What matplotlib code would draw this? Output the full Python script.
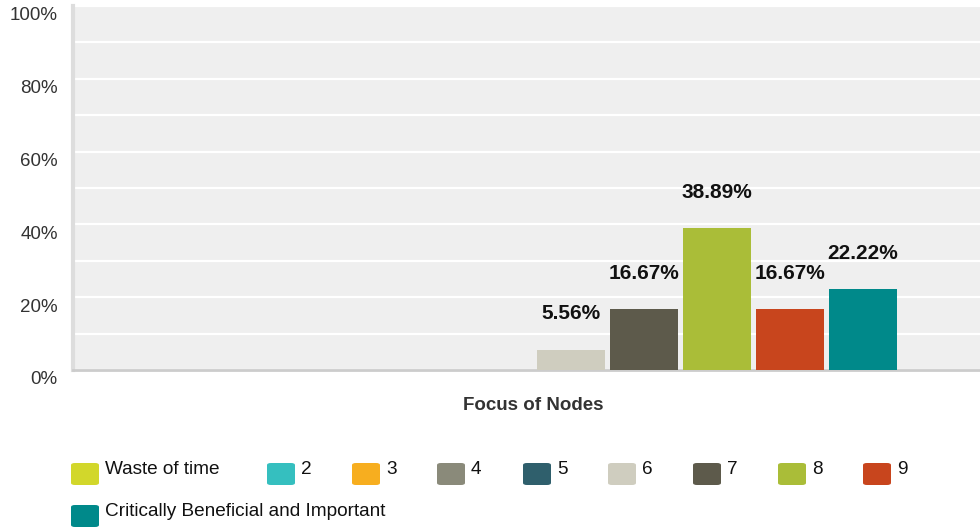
import matplotlib
matplotlib.use("Agg")
import matplotlib.pyplot as plt
from matplotlib.patches import FancyBboxPatch
from matplotlib.transforms import ScaledTranslation

plt.rcParams['font.family'] = ['Liberation Sans', 'DejaVu Sans']

category = 'Focus of Nodes'
series = ['Waste of time', '2', '3', '4', '5', '6', '7', '8', '9',
          'Critically Beneficial and Important']
values = [0, 0, 0, 0, 0, 5.56, 16.67, 38.89, 16.67, 22.22]
colors = ['#d2d72b', '#35bfbf', '#f7ae1f', '#8a8a7a', '#2f5f6c',
          '#cfcdbf', '#5d5a4b', '#aabd38', '#c8451d', '#00898a']
yticks = [0, 20, 40, 60, 80, 100]


def main():
    W, H = 980, 527
    fig = plt.figure(figsize=(W / 100, H / 100), dpi=100)
    ax = fig.add_axes([73 / W, 1 - 370 / H, (W - 73) / W, 364 / H])
    ax.set_facecolor('#efefef')

    x = list(range(len(series)))
    bars = ax.bar(x, values, width=0.93, color=colors, zorder=3)
    for b, v in zip(bars, values):
        if v > 0:
            ax.annotate(f'{v:.2f}%', (b.get_x() + b.get_width() / 2, v),
                        xytext=(0, 19), textcoords='offset points',
                        ha='center', va='bottom', fontsize=15,
                        fontweight='bold', color='#111111')

    ax.set_xlim(-1.81, 10.6)
    ax.set_ylim(0, 100)
    ax.set_yticks(yticks)
    ax.set_yticklabels([f'{t}%' for t in yticks], fontsize=13.5, color='#333333')
    ax.set_yticks(range(10, 100, 20), minor=True)
    ax.grid(axis='y', which='both', color='white', linewidth=1.6, zorder=1)
    ax.tick_params(axis='y', which='both', length=0, pad=11)
    shift = ScaledTranslation(0, -0.08, fig.dpi_scale_trans)
    for lab in ax.get_yticklabels():
        lab.set_transform(lab.get_transform() + shift)
    ax.set_xticks([])
    for s in ['top', 'right']:
        ax.spines[s].set_visible(False)
    ax.spines['left'].set_color('#dddddd')
    ax.spines['left'].set_linewidth(3)
    ax.spines['bottom'].set_color('#cccccc')
    ax.spines['bottom'].set_linewidth(2)

    fig.text(533 / W, 1 - 405 / H, category, ha='center', va='center',
             fontsize=13.5, fontweight='bold', color='#333333')

    # legend, laid out by hand like the original
    lx = [71, 267, 352, 437, 523, 608, 693, 778, 863, 71]
    ly = [474, 474, 474, 474, 474, 474, 474, 474, 474, 516]
    for name, c, px, py in zip(series, colors, lx, ly):
        box = FancyBboxPatch((px / W, 1 - (py + 11) / H), 28 / W, 22 / H,
                             boxstyle='round,pad=0,rounding_size=0.004',
                             transform=fig.transFigure, facecolor=c,
                             edgecolor='none')
        fig.patches.append(box)
        fig.text((px + 34) / W, 1 - (py - 5) / H, name, ha='left',
                 va='center', fontsize=13.7, color='#111111')

    fig.savefig('out.png', dpi=100)


if __name__ == '__main__':
    main()
